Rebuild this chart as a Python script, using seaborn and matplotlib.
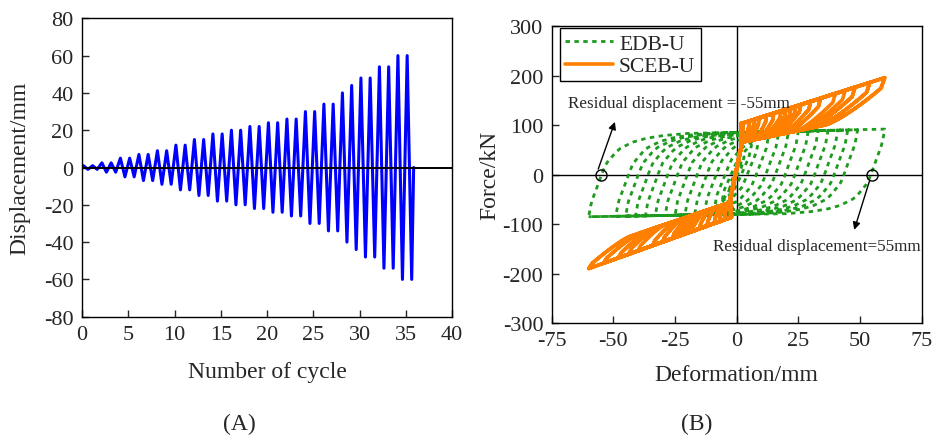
import numpy as np
import pandas as pd
import matplotlib
matplotlib.use("Agg")
import matplotlib.pyplot as plt
import seaborn as sns

# ---------------- data ----------------
# (A) loading protocol: displacement amplitude of each cycle (mm)
cycle_amplitudes = [1, 1, 2.5, 2.5, 5, 5, 7, 7, 9, 9, 12, 12, 15, 15, 18, 18,
                    20, 20, 22, 22, 24, 24, 26, 26, 30, 30, 34, 34, 40, 44,
                    48, 48, 54, 54, 60, 60]
peak_offset = 0.15      # position of + peak inside a cycle
trough_offset = 0.64    # position of - peak inside a cycle
end_cycle = 35.85

# (B) EDB-U loops (green): amplitudes and reversal shape read from outer loop
edb_amplitudes = [3, 6, 9, 13, 17, 21, 25, 29, 33, 37, 41, 45, 49, 60]
edb_shape_s = [0, 1, 3.4, 5.2, 7, 11, 13, 18, 23, 30, 40, 200]          # mm after reversal
edb_shape_frac = [0, 0.17, 0.36, 0.51, 0.64, 0.78, 0.83, 0.9, 0.94, 0.97, 0.99, 1.0]
edb_top_x, edb_top_F = [-60, 60], [81, 93]      # positive plateau
edb_bot_x, edb_bot_F = [-60, 60], [-86, -78]    # negative plateau

# (B) SCEB-U loops (orange): branch lines
sceb_amplitudes = [a for a in cycle_amplitudes if a >= 2.5]
sceb_up_x, sceb_up_F = [1.8, 60], [103, 196]         # + loading
sceb_lo_x, sceb_lo_F = [2.2, 60], [66, 125]          # + unloading
sceb_nl_x, sceb_nl_F = [-2.2, -60], [-86, -190]      # - loading
sceb_nu_x, sceb_nu_F = [-3, -60], [-57, -153]        # - unloading
sceb_core_x, sceb_core_F = [1.8, -2.4], [55, -45]    # self-centering core
sceb_drop = [0.025, 0.3]        # elastic drop after reversal (dx / d, dF share)
sceb_join = [0.6, 0.72]         # where unloading meets its line (+ side, - side), / d
sceb_curve = 1.4                # curvature of the unloading branch

residual_x = [-55, 55]

# ---------------- style ----------------
sns.set_style("white")
plt.rcParams["font.family"] = ["Liberation Serif", "DejaVu Serif"]
plt.rcParams["axes.unicode_minus"] = False

fig = plt.figure(figsize=(9.33, 4.39), dpi=100)
axA = fig.add_axes([0.0879, 0.2763, 0.3966, 0.6797])
axB = fig.add_axes([0.5913, 0.262, 0.3966, 0.6758])

# ---------------- panel A ----------------
t = [0.0]
disp = [0.0]
for k, a in enumerate(cycle_amplitudes):
    t += [k + peak_offset, k + trough_offset]
    disp += [a, -a]
t.append(end_cycle)
disp.append(0.0)
dfA = pd.DataFrame({"cycle": t, "disp": disp})
sns.lineplot(data=dfA, x="cycle", y="disp", sort=False, estimator=None,
             color="#0000ff", lw=2.2, ax=axA)
axA.axhline(0, color="black", lw=1.4, zorder=5)
axA.set_xlim(0, 40)
axA.set_ylim(-80, 80)
axA.set_xticks(range(0, 41, 5))
axA.set_yticks(range(-80, 81, 20))
axA.set_xlabel("Number of cycle", fontsize=17)
axA.set_ylabel("Displacement/mm", fontsize=17)
axA.xaxis.label.set_va("center")
axA.yaxis.label.set_va("center")
axA.xaxis.set_label_coords(0.5, -0.182)
axA.yaxis.set_label_coords(-0.168, 0.5)

# ---------------- panel B ----------------
def frac(s):
    return np.interp(s, edb_shape_s, edb_shape_frac)

def Ft(x):
    return np.interp(x, edb_top_x, edb_top_F)

def Fb(x):
    return np.interp(x, edb_bot_x, edb_bot_F)

gx, gy = [], []
for d in edb_amplitudes:
    Fneg = Fb(-d)
    for _ in range(4):
        Fpos = Fneg + (Ft(d) - Fneg) * frac(2 * d)
        Fneg = Fpos + (Fb(-d) - Fpos) * frac(2 * d)
    xu = np.linspace(-d, d, 160)
    gx += list(xu)
    gy += list(Fneg + (Ft(xu) - Fneg) * frac(xu + d))
    xd = np.linspace(d, -d, 160)
    gx += list(xd)
    gy += list(Fpos + (Fb(xd) - Fpos) * frac(d - xd))

def lin(x, xs, fs):
    return fs[0] + (np.asarray(x) - xs[0]) * (fs[1] - fs[0]) / (xs[1] - xs[0])

def unload(xp, Fp, xj, xs_line, fs_line):
    """Unloading branch from reversal (xp, Fp) until it meets a line at xj."""
    sgn = np.sign(xp)
    xe = xp - sgn * sceb_drop[0] * abs(xp)
    Fe = Fp - sceb_drop[1] * (Fp - lin(xp, xs_line, fs_line))
    xx = np.linspace(xe, xj, 40)
    tt = (xx - xj) / (xe - xj)
    ff = lin(xx, xs_line, fs_line) + (Fe - lin(xe, xs_line, fs_line)) * tt ** sceb_curve
    return [xp] + list(xx), [Fp] + list(ff)

ox, oy = [], []
for d in sceb_amplitudes:
    px = [sceb_core_x[1], sceb_core_x[0]]
    py = [sceb_core_F[1], sceb_core_F[0]]
    xu = np.linspace(sceb_up_x[0], d, 40)
    px += list(xu); py += list(lin(xu, sceb_up_x, sceb_up_F))
    xj = max(sceb_join[0] * d, sceb_lo_x[0])
    a, b = unload(d, float(lin(d, sceb_up_x, sceb_up_F)), xj, sceb_lo_x, sceb_lo_F)
    px += a; py += b
    xl = np.linspace(xj, sceb_lo_x[0], 20)
    px += list(xl); py += list(lin(xl, sceb_lo_x, sceb_lo_F))
    px += [sceb_core_x[0], sceb_core_x[1], sceb_nl_x[0]]
    py += [sceb_core_F[0], sceb_core_F[1], sceb_nl_F[0]]
    xn = np.linspace(sceb_nl_x[0], -d, 40)
    px += list(xn); py += list(lin(xn, sceb_nl_x, sceb_nl_F))
    xj = -max(sceb_join[1] * d, -sceb_nu_x[0])
    a, b = unload(-d, float(lin(-d, sceb_nl_x, sceb_nl_F)), xj, sceb_nu_x, sceb_nu_F)
    px += a; py += b
    xl = np.linspace(xj, sceb_nu_x[0], 20)
    px += list(xl); py += list(lin(xl, sceb_nu_x, sceb_nu_F))
    px += [sceb_core_x[1]]; py += [sceb_core_F[1]]
    ox += px; oy += py

dfG = pd.DataFrame({"x": gx, "F": gy})
dfO = pd.DataFrame({"x": ox, "F": oy})
sns.lineplot(data=dfG, x="x", y="F", sort=False, estimator=None, color="#1e9a1e",
             lw=2.0, linestyle=(0, (1.6, 1.6)), label="EDB-U", ax=axB)
sns.lineplot(data=dfO, x="x", y="F", sort=False, estimator=None, color="#ff8000",
             lw=2.6, label="SCEB-U", ax=axB)
axB.axhline(0, color="black", lw=1.0, zorder=1)
axB.axvline(0, color="black", lw=1.0, zorder=1)

axB.plot(residual_x, [0, 0], ls="none", marker="o", ms=8, mfc="none",
         mec="black", mew=1.0, zorder=6)
axB.annotate("", xy=(-49, 112), xytext=(-56.5, 6),
             arrowprops=dict(arrowstyle="-|>", color="black", lw=1.0, mutation_scale=11))
axB.annotate("", xy=(47.3, -117), xytext=(54.2, -7),
             arrowprops=dict(arrowstyle="-|>", color="black", lw=1.0, mutation_scale=11))
axB.text(-68.4, 145, "Residual displacement = -55mm", fontsize=12.3, va="center", ha="left")
axB.text(-9.7, -145, "Residual displacement=55mm", fontsize=12.3, va="center", ha="left")

axB.set_xlim(-75, 75)
axB.set_ylim(-300, 300)
axB.set_xticks(range(-75, 76, 25))
axB.set_yticks(range(-300, 301, 100))
axB.set_xlabel("Deformation/mm", fontsize=17)
axB.set_ylabel("Force/kN", fontsize=17)
axB.xaxis.label.set_va("center")
axB.yaxis.label.set_va("center")
axB.xaxis.set_label_coords(0.498, -0.175)
axB.yaxis.set_label_coords(-0.167, 0.5)

leg = axB.legend(loc="upper left", bbox_to_anchor=(0.022, 0.993), borderaxespad=0,
                 fontsize=15.5, frameon=True, fancybox=False, framealpha=1,
                 edgecolor="black", handlelength=2.2, handletextpad=0.3,
                 borderpad=0.25, labelspacing=0.1)
leg.get_frame().set_linewidth(1.0)

for ax in (axA, axB):
    ax.tick_params(direction="in", length=5, width=1, labelsize=16,
                   top=False, right=False, bottom=True, left=True, pad=6)
    for sp in ax.spines.values():
        sp.set_color("black")
        sp.set_linewidth(1.0)

fig.text(0.257, 0.032, "(A)", fontsize=17, ha="center", va="center")
fig.text(0.747, 0.032, "(B)", fontsize=17, ha="center", va="center")

fig.savefig("out.png", dpi=100)
